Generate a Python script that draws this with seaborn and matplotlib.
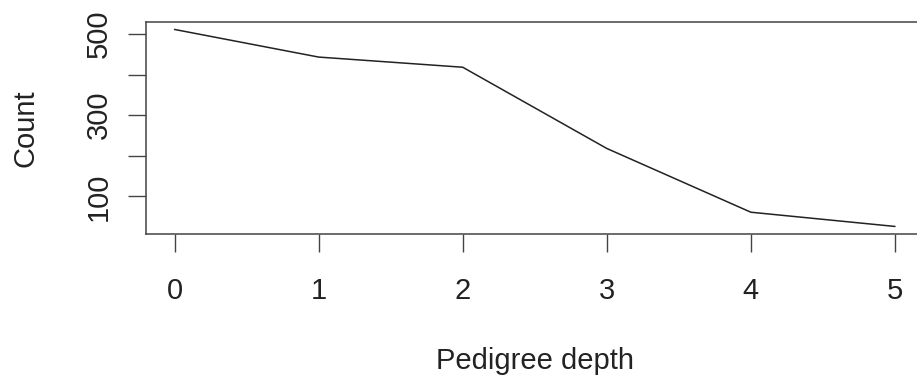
import matplotlib
matplotlib.use("Agg")
import matplotlib.pyplot as plt
import seaborn as sns
import pandas as pd

depth = [0, 1, 2, 3, 4, 5]
count = [511, 443, 418, 218, 61, 26]

sns.set_style("white")
plt.rcParams['font.family'] = ['Liberation Sans', 'DejaVu Sans']

df = pd.DataFrame({"depth": depth, "count": count})

fig = plt.figure(figsize=(9.17, 3.78), dpi=100)
ax = fig.add_axes([0.1589, 0.3801, 0.8485, 0.5624])
sns.lineplot(data=df, x="depth", y="count", color="#222222", linewidth=1.1, ax=ax)

ax.set_xlim(-0.2, 5.2)
ax.set_ylim(6.6, 530)
ax.set_xticks(depth)
ax.set_xticklabels([str(d) for d in depth])
ax.set_yticks([100, 200, 300, 400, 500])
ax.set_yticklabels(["100", "", "300", "", "500"], rotation=90, va="center")

for s in ax.spines.values():
    s.set_color("#444444")
    s.set_linewidth(1.1)

ax.tick_params(axis="both", which="both", direction="out", length=13, width=1.0,
               color="#444444", labelsize=21, labelcolor="#222222")
ax.tick_params(axis="x", pad=18, bottom=True)
ax.tick_params(axis="y", pad=11, left=True)

ax.set_xlabel("Pedigree depth", fontsize=21, color="#222222")
ax.set_ylabel("Count", fontsize=21, color="#222222")
ax.xaxis.set_label_coords(0.5, -0.6336)
ax.xaxis.label.set_va("baseline")
ax.yaxis.set_label_coords(-0.1539, 0.5)
ax.yaxis.label.set_va("center")

fig.savefig("out.png", dpi=100)
